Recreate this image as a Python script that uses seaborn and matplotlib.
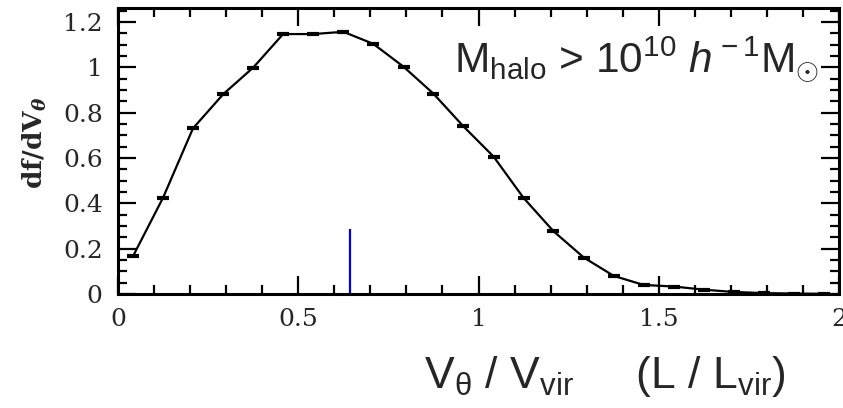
import numpy as np
import matplotlib
matplotlib.use("Agg")
import matplotlib.pyplot as plt
import seaborn as sns
import pandas as pd
from matplotlib.ticker import MultipleLocator, FuncFormatter

# Distribution of rotational velocity (in units of V_vir), 24 bins over [0, 2]
v_theta = [0.042, 0.125, 0.208, 0.292, 0.375, 0.458, 0.542, 0.625,
           0.708, 0.792, 0.875, 0.958, 1.042, 1.125, 1.208, 1.292,
           1.375, 1.458, 1.542, 1.625, 1.708, 1.792, 1.875, 1.958]
df_dv = [0.168, 0.425, 0.731, 0.882, 0.999, 1.147, 1.147, 1.157,
         1.104, 1.003, 0.884, 0.740, 0.606, 0.424, 0.277, 0.161,
         0.080, 0.040, 0.033, 0.019, 0.009, 0.004, 0.002, 0.001]

# Mean of the distribution, marked by a short vertical line
mean_v = [0.643]
mean_mark_top = [0.287]

x_ticks = [0, 0.5, 1, 1.5, 2]
y_ticks = [0, 0.2, 0.4, 0.6, 0.8, 1.0, 1.2]

sns.set_style("ticks")
plt.rcParams["mathtext.fontset"] = "custom"
plt.rcParams["mathtext.rm"] = "Liberation Sans"
plt.rcParams["mathtext.it"] = "Liberation Sans:italic"
plt.rcParams["mathtext.bf"] = "DejaVu Serif:bold:italic"
plt.rcParams["font.family"] = ["DejaVu Serif"]

fig = plt.figure(figsize=(8.43, 4.08), dpi=100)
ax = fig.add_axes([118 / 843, 1 - 294 / 408, (839 - 118) / 843, (294 - 8) / 408])

data = pd.DataFrame({"v": v_theta, "f": df_dv})
sns.lineplot(data=data, x="v", y="f", ax=ax, color="black", lw=1.6,
             marker="_", markersize=8, markeredgewidth=3, markeredgecolor="black")

ax.vlines(mean_v, 0, mean_mark_top, color="#0000ee", lw=1.6)

ax.set_xlim(0, 2)
ax.set_ylim(0, 1.262)
ax.set_xticks(x_ticks)
ax.set_yticks(y_ticks)
ax.xaxis.set_minor_locator(MultipleLocator(0.1))
ax.yaxis.set_minor_locator(MultipleLocator(0.05))
fmt = FuncFormatter(lambda v, p: f"{v:g}")
ax.xaxis.set_major_formatter(fmt)
ax.yaxis.set_major_formatter(fmt)

ax.tick_params(which="both", direction="in", top=True, right=True,
               width=1.6, color="black", labelsize=18)
ax.tick_params(which="major", length=13)
ax.tick_params(which="minor", length=6.5)
ax.tick_params(axis="x", pad=10)
ax.tick_params(axis="y", pad=11)
for s in ax.spines.values():
    s.set_linewidth(2.2)
    s.set_color("black")

ax.set_xlabel("")
ax.set_ylabel(r"df/dV$_{\mathbf{θ}}$", fontsize=19, fontweight="bold",
              family="DejaVu Serif")
ax.yaxis.set_label_coords(-0.096, 0.53)

ax.text(0.972, 0.773, r"M$_{\rm halo}$ > 10$^{\rm 10}$ $h^{\rm -1}$M$_{\odot}$",
        transform=ax.transAxes, ha="right", va="baseline",
        fontsize=30.5, family="Liberation Sans")

fig.text(605 / 843, 1 - 388 / 408,
         r"V$_{\rm θ}$ / V$_{\rm vir}$     (L / L$_{\rm vir}$)",
         ha="center", va="baseline", fontsize=32, family="Liberation Sans")

fig.savefig("out.png", dpi=100, facecolor="white")
